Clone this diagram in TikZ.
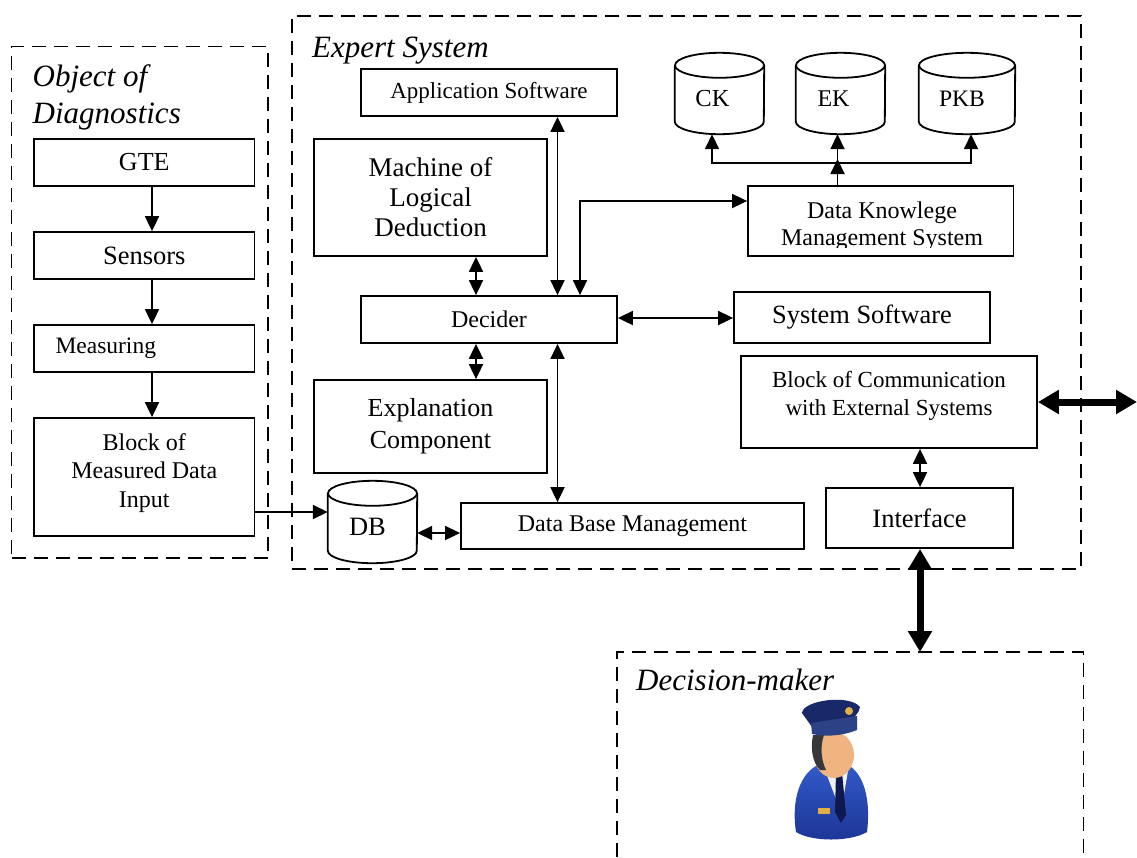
\documentclass[tikz,border=0pt]{standalone}
\usepackage{fontspec}
\setmainfont{Liberation Serif}
\usetikzlibrary{arrows.meta,calc}
\newcommand\fsz[2]{\fontsize{#1pt}{#2pt}\selectfont}
\definecolor{jk}{RGB}{50,90,200}
\definecolor{jkd}{RGB}{28,52,150}
\definecolor{capc}{RGB}{25,40,105}
\definecolor{capb}{RGB}{45,65,135}
\definecolor{skin}{RGB}{240,180,128}
\definecolor{goldc}{RGB}{225,175,70}
\definecolor{navy}{RGB}{15,25,80}
\definecolor{hairc}{RGB}{55,55,60}
\tikzset{
  box/.style={draw, line width=1.8pt, inner sep=0pt, align=center},
  ghost/.style={inner sep=0pt},
  grp/.style={draw, line width=1.7pt, dash pattern=on 14pt off 8pt},
  arr/.style={line width=1.8pt, -{Triangle[length=15pt,width=14pt]}},
  darr/.style={line width=1.8pt, {Triangle[length=15pt,width=14pt]}-{Triangle[length=15pt,width=14pt]}},
  boldarr/.style={line width=7pt, {Triangle[length=21pt,width=23pt]}-{Triangle[length=21pt,width=23pt]}},
  ttl/.style={font=\itshape\fsz{31}{37}, inner sep=0pt, anchor=base west, align=left},
}
\newcommand\cyl[2]{%
  \draw[line width=1.8pt] ($(#1.north west)+(0,12.5)$) -- ($(#1.south west)+(0,-12.5)$)
     arc[start angle=180,end angle=360,x radius=#2pt,y radius=12.5pt]
     -- ($(#1.north east)+(0,12.5)$);
  \draw[line width=1.8pt] ($(#1.north)+(0,12.5)$) ellipse[x radius=#2pt,y radius=12.5pt];}
\begin{document}
\begin{tikzpicture}[x=1pt,y=-1pt]
\useasboundingbox (0,0) rectangle (1137,857);

% groups
\node[grp, minimum width=256.5pt, minimum height=511.5pt] (objgrp) at (139.75,302.25) {};
\node[grp, minimum width=789pt, minimum height=553pt] (expgrp) at (686.5,292.5) {};
\draw[grp] (617,857) -- (617,652) -- (1083.5,652) -- (1083.5,857);
\coordinate (dmtop) at (920,652);

% titles
\node[ttl] (objT) at (32.5,123) {Object of\\Diagnostics};
\node[ttl] (expT) at (312,57) {Expert System};
\node[ttl] (dmT) at (636,690) {Decision-maker};

% object of diagnostics
\node[box, minimum width=220.5pt, minimum height=47pt, font=\fsz{26}{30}] (gte) at (144.25,162.5) {GTE};
\node[box, minimum width=220.5pt, minimum height=47pt, font=\fsz{26.5}{30}] (sens) at (144.25,255.5) {Sensors};
\node[box, minimum height=47pt, text width=177.5pt, inner xsep=21.5pt, align=left, font=\fsz{23.5}{27}] (meas) at (144.25,348.5) {Measuring};
\node[box, minimum width=220.5pt, minimum height=118pt,
  label={[font=\fsz{24}{28.5}, align=center, yshift=4pt]center:{Block of\\Measured Data\\Input}}] (bmdi) at (144.25,477) {};

% expert system
\node[box, minimum width=256pt, minimum height=47pt, font=\fsz{23}{27}] (app) at (489,92.5) {Application Software};
\node[box, minimum width=233pt, minimum height=117pt, font=\fsz{27}{30}] (mach) at (430.5,197.5) {Machine of\\Logical\\Deduction};
\node[box, minimum width=256pt, minimum height=47pt, font=\fsz{24}{28}] (dec) at (489,319.5) {Decider};
\node[box, minimum width=233pt, minimum height=93pt, font=\fsz{26}{32}] (expl) at (430.5,426.5) {Explanation\\Component};
\node[box, minimum width=343pt, minimum height=46pt, font=\fsz{24}{28}] (dbm) at (632.5,526) {Data Base Management};
\node[box, minimum width=256pt, minimum height=51pt, font=\fsz{26.4}{30}] (sys) at (862,317.5) {System Software};
\node[box, minimum width=265.5pt, minimum height=70pt] (dkms) at (880.75,221) {};
\begin{scope}
  \clip (748,186) rectangle (1013.5,247);
  \node[font=\fsz{24}{27}, align=center, inner sep=0pt] (dkmsT) at (882,226) {Data Knowlege\\Management System};
\end{scope}
\node[box, minimum width=296pt, minimum height=92pt,
  label={[font=\fsz{23}{28}, align=center, yshift=6.5pt]center:{Block of Communication\\with External Systems}}] (comm) at (889,402) {};
\node[box, minimum width=187pt, minimum height=60pt, font=\fsz{26.5}{30}] (iface) at (919.5,518) {Interface};

% cylinders
\node[ghost, minimum width=89pt, minimum height=81pt] (ck) at (719.5,93.5) {};
\node[ghost, minimum width=89pt, minimum height=81pt] (ek) at (840.5,93.5) {};
\node[ghost, minimum width=96pt, minimum height=81pt] (pkb) at (967,93.5) {};
\node[ghost, minimum width=89pt, minimum height=82pt] (db) at (372.5,522) {};
\cyl{ck}{44.5}\cyl{ek}{44.5}\cyl{pkb}{48}\cyl{db}{44.5}
\node[font=\fsz{24.5}{28}, inner sep=0pt] at ($(ck)+(-7,5)$) {CK};
\node[font=\fsz{24}{28}, inner sep=0pt] at ($(ek)+(-7,5)$) {EK};
\node[font=\fsz{23.6}{28}, inner sep=0pt] at ($(pkb)+(-5,5)$) {PKB};
\node[font=\fsz{26.5}{30}, inner sep=0pt] at ($(db)+(-5,5)$) {DB};

% connectors: object of diagnostics
\coordinate (cA) at (152,0);
\draw[arr] (gte.south -| cA) -- (sens.north -| cA);
\draw[arr] (sens.south -| cA) -- (meas.north -| cA);
\draw[arr] (meas.south -| cA) -- (bmdi.north -| cA);
\coordinate (rDB) at (0,512);
\draw[arr] (bmdi.east |- rDB) -- (db.west |- rDB);
\coordinate (rDBM) at (0,533);
\draw[darr] (db.east |- rDBM) -- (dbm.west |- rDBM);

% connectors: expert system
\coordinate (cB) at (476,0);
\draw[darr] (mach.south -| cB) -- (dec.north -| cB);
\draw[darr] (dec.south -| cB) -- (expl.north -| cB);
\coordinate (cC) at (557.5,0);
\draw[darr] (app.south -| cC) -- (dec.north -| cC);
\draw[darr] (dec.south -| cC) -- (dbm.north -| cC);
\coordinate (cD) at (580,201);
\draw[darr] (dec.north -| cD) -- (cD) -- (dkms.west |- cD);
\coordinate (rS) at (0,318);
\draw[darr] (dec.east |- rS) -- (sys.west |- rS);

% knowledge tree
\coordinate (jn) at (837.5,163);
\coordinate (tL) at (712,163);
\coordinate (tR) at (971,163);
\draw[arr] (dkms.north -| jn) -- ($(jn)+(0,-4)$);
\draw[arr] (jn) -- (tL) -- (ck.south -| tL);
\draw[arr] (jn) -- (tR) -- (pkb.south -| tR);
\draw[arr] (jn) -- (ek.south -| jn);

% communication
\coordinate (ext) at (1137,402);
\draw[boldarr] (comm.east) -- (ext);
\coordinate (cE) at (920,0);
\draw[darr] (comm.south -| cE) -- (iface.north -| cE);
\draw[boldarr] (iface.south -| cE) -- (dmtop);

% decision-maker icon
\shade[top color=jk, bottom color=jkd] (796,832) .. controls (791,800) and (800,772) .. (820,764) -- (846,764)
   .. controls (864,772) and (871,800) .. (867,832) .. controls (850,842) and (812,842) .. (796,832) -- cycle;
\fill[gray!12] (823,765) -- (849,765) -- (841,812) -- cycle;
\fill[navy] (836,772) -- (842,772) -- (846,815) -- (841,823) -- (835,812) -- cycle;
\fill[goldc] (818,808) rectangle (830,814);
\fill[skin] (834,755) ellipse[x radius=20pt, y radius=23pt];
\fill[hairc] (813,735) .. controls (810,750) and (813,763) .. (820,770) -- (826,770)
   .. controls (821,760) and (820,746) .. (824,735) -- cycle;
\fill[capc] (802,713) .. controls (803,700) and (850,694) .. (860,707)
   .. controls (858,720) and (840,727) .. (812,727) -- cycle;
\fill[capb] (811,723) -- (857,716) -- (857,730) .. controls (842,736) and (826,737) .. (812,734) -- cycle;
\fill[goldc] (849,711) circle[radius=4pt];
\end{tikzpicture}
\end{document}
